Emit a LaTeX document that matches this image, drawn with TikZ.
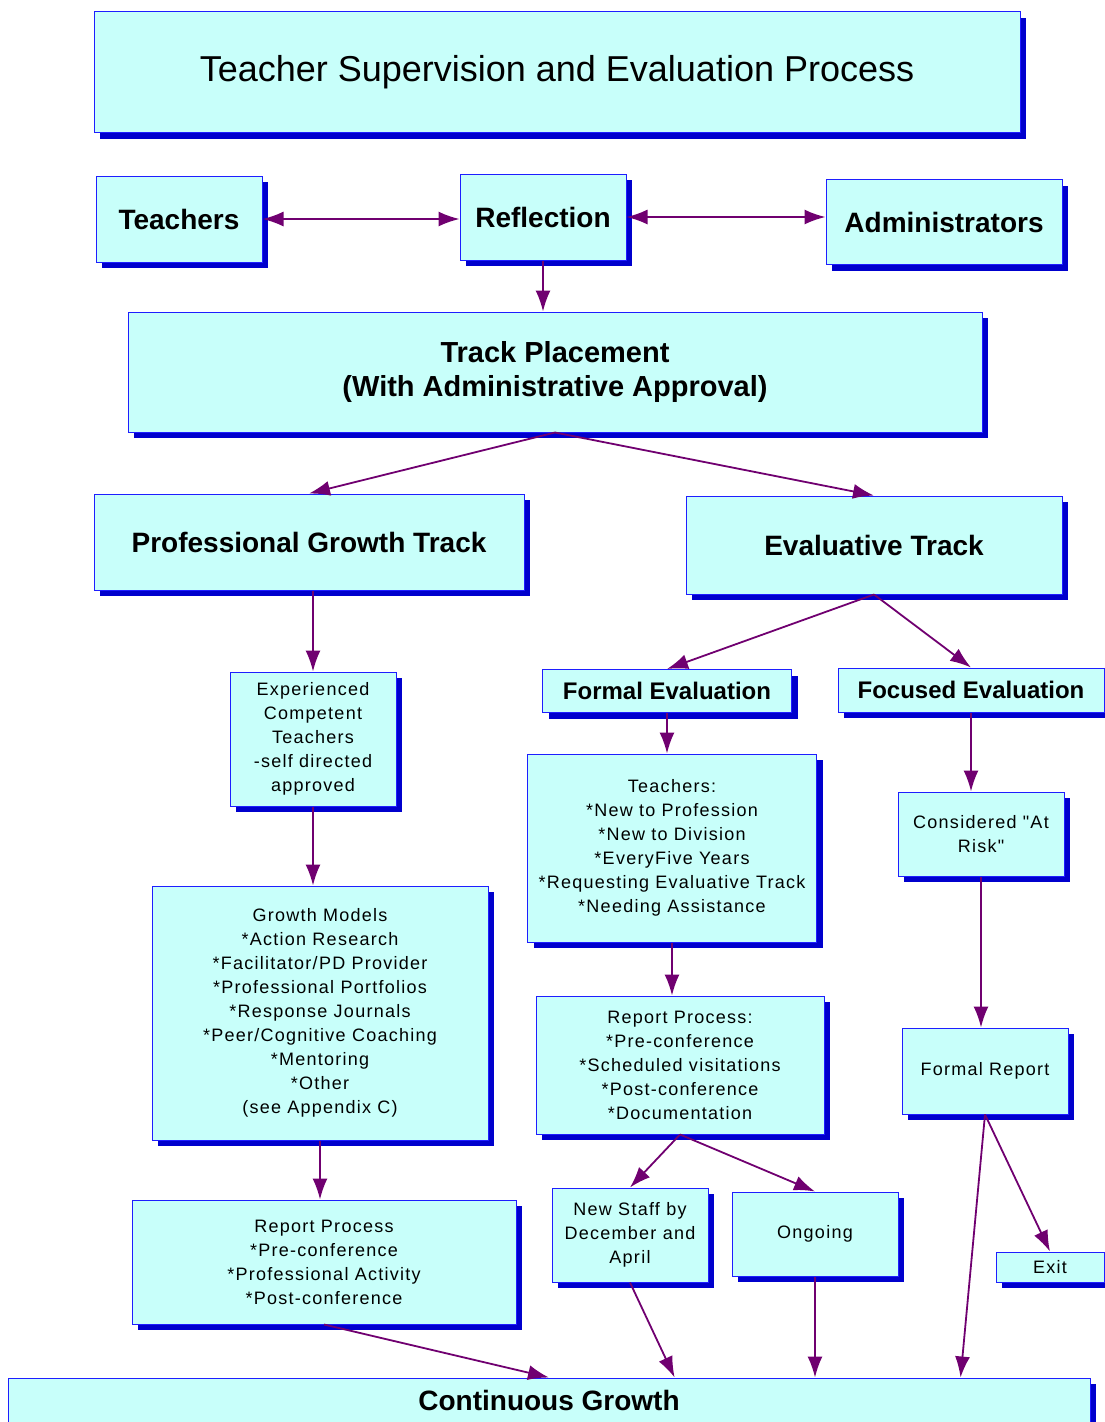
\documentclass[tikz,border=0pt]{standalone}
\usepackage{fontspec}
\setmainfont{Liberation Sans}
\newfontfamily\smallfont[LetterSpace=7]{Liberation Sans}
\usepackage{tikz}
\usetikzlibrary{calc}
\usetikzlibrary{arrows.meta}
\usetikzlibrary{shadows}
\definecolor{boxfill}{RGB}{200, 255, 250}
\definecolor{boxline}{RGB}{30, 30, 255}
\definecolor{shadowblue}{RGB}{0, 0, 205}
\definecolor{linkpurple}{RGB}{112, 0, 112}

\begin{document}
\begin{tikzpicture}[x=1pt, y=-1pt,
    box/.style={draw=boxline, fill=boxfill, line width=1pt, inner sep=0pt, align=center,
                drop shadow={shadow xshift=6pt, shadow yshift=-6pt, fill=shadowblue, opacity=1}},
    head/.style={font=\bfseries\fontsize{28}{34}\selectfont},
    subhead/.style={font=\bfseries\fontsize{24}{28}\selectfont},
    note/.style={font=\smallfont\fontsize{18}{24}\selectfont},
    link/.style={draw=linkpurple, line width=1.8pt, -{Latex[length=21pt, width=15pt]}},
    twoway/.style={link, {Latex[length=21pt, width=15pt]}-{Latex[length=21pt, width=15pt]}}]
            \useasboundingbox                                                 (0, 0) rectangle (1105, 1422);
            % Header
            \node[box, minimum width=926, minimum height=121,
                  font=\fontsize{36}{40}\selectfont]          (title)   at ( 557,   72) {Teacher Supervision and Evaluation Process};
            % Top row
            \node[box, head, minimum width=166, minimum height=86]  (teach)   at ( 179,  219) {Teachers};
            \node[box, head, minimum width=166, minimum height=86]  (refl)    at ( 543,  217) {Reflection};
            \node[box, head, minimum width=236, minimum height=85]  (admin)   at ( 944,  222) {Administrators};
            \node[box, head, minimum width=854, minimum height=120,
                  font=\bfseries\fontsize{29}{34}\selectfont]          (track)   at ( 555,  372) {Track Placement\\(With Administrative Approval)};
            % Tracks
            \node[box, head, minimum width=430, minimum height=96]  (pgt)     at ( 309,  542) {Professional Growth Track};
            \node[box, head, minimum width=376, minimum height=98]  (evtrack) at ( 874,  545) {Evaluative Track};
            % Professional growth column
            \node[box, note, minimum width=166, minimum height=134] (exper)   at ( 313,  739) {Experienced\\Competent\\Teachers\\-self directed\\approved};
            \node[box, note, minimum width=336, minimum height=254] (growth)  at ( 320, 1013) {Growth Models\\*Action Research\\*Facilitator/PD Provider\\*Professional Portfolios\\*Response Journals\\*Peer/Cognitive Coaching\\*Mentoring\\*Other\\(see Appendix C)};
            \node[box, note, minimum width=384, minimum height=124] (repleft) at ( 324, 1262) {Report Process\\*Pre-conference\\*Professional Activity\\*Post-conference};
            % Formal evaluation column
            \node[box, subhead, minimum width=249, minimum height=43] (formal) at ( 667,  691) {Formal Evaluation};
            \node[box, note, minimum width=289, minimum height=188] (who)     at ( 672,  848) {Teachers:\\*New to Profession\\*New to Division\\*EveryFive Years\\*Requesting Evaluative Track\\*Needing Assistance};
            \node[box, note, minimum width=288, minimum height=138] (repmid)  at ( 680, 1065) {Report Process:\\*Pre-conference\\*Scheduled visitations\\*Post-conference\\*Documentation};
            \node[box, note, minimum width=156, minimum height=94]  (staff)   at ( 630, 1235) {New Staff by\\December and\\April};
            \node[box, note, minimum width=166, minimum height=84]  (ongoing) at ( 815, 1234) {Ongoing};
            % Focused evaluation column
            \node[box, subhead, minimum width=266, minimum height=44] (focused) at ( 971,  690) {Focused Evaluation};
            \node[box, note, minimum width=166, minimum height=84]  (risk)    at ( 981,  834) {Considered "At\\Risk"};
            \node[box, note, minimum width=166, minimum height=86]  (freport) at ( 985, 1071) {Formal Report};
            \node[box, note, minimum width=108, minimum height=30]  (exit)    at (1050, 1267) {Exit};
            % Footer
            \node[box, head, minimum width=1082, minimum height=44] (cont)    at ( 549, 1400) {Continuous Growth};
            % Connectors
            \draw[twoway] (teach.east)   -- (teach.east -| refl.west);
            \draw[twoway] (refl.east)    -- (refl.east -| admin.west);
            \draw[link]   (refl.south)   -- (refl.south |- track.north);
            \draw[link]   (track.south)  -- (pgt.north);
            \draw[link]   (track.south)  -- (evtrack.north);
            \draw[link]   (pgt.south -| exper.north) -- (exper.north);
            \draw[link]   (exper.south)  -- (exper.south |- growth.north);
            \draw[link]   (growth.south) -- (growth.south |- repleft.north);
            \draw[link]   (repleft.south) -- (cont.north);
            \draw[link]   (evtrack.south) -- (formal.north);
            \draw[link]   (evtrack.south) -- (focused.north);
            \draw[link]   (formal.south) -- (formal.south |- who.north);
            \draw[link]   (who.south)    -- (who.south |- repmid.north);
            \draw[link]   (repmid.south) -- (staff.north);
            \draw[link]   (repmid.south) -- (ongoing.north);
            \draw[link]   (staff.south)  -- ($(cont.north west)!0.616!(cont.north east)$);
            \draw[link]   (ongoing.south) -- (ongoing.south |- cont.north);
            \draw[link]   (focused.south) -- (focused.south |- risk.north);
            \draw[link]   (risk.south)   -- (risk.south |- freport.north);
            \draw[link]   (freport.south) -- ($(cont.north west)!0.88!(cont.north east)$);
            \draw[link]   (freport.south) -- (exit.north);
        \end{tikzpicture}
\end{document}
